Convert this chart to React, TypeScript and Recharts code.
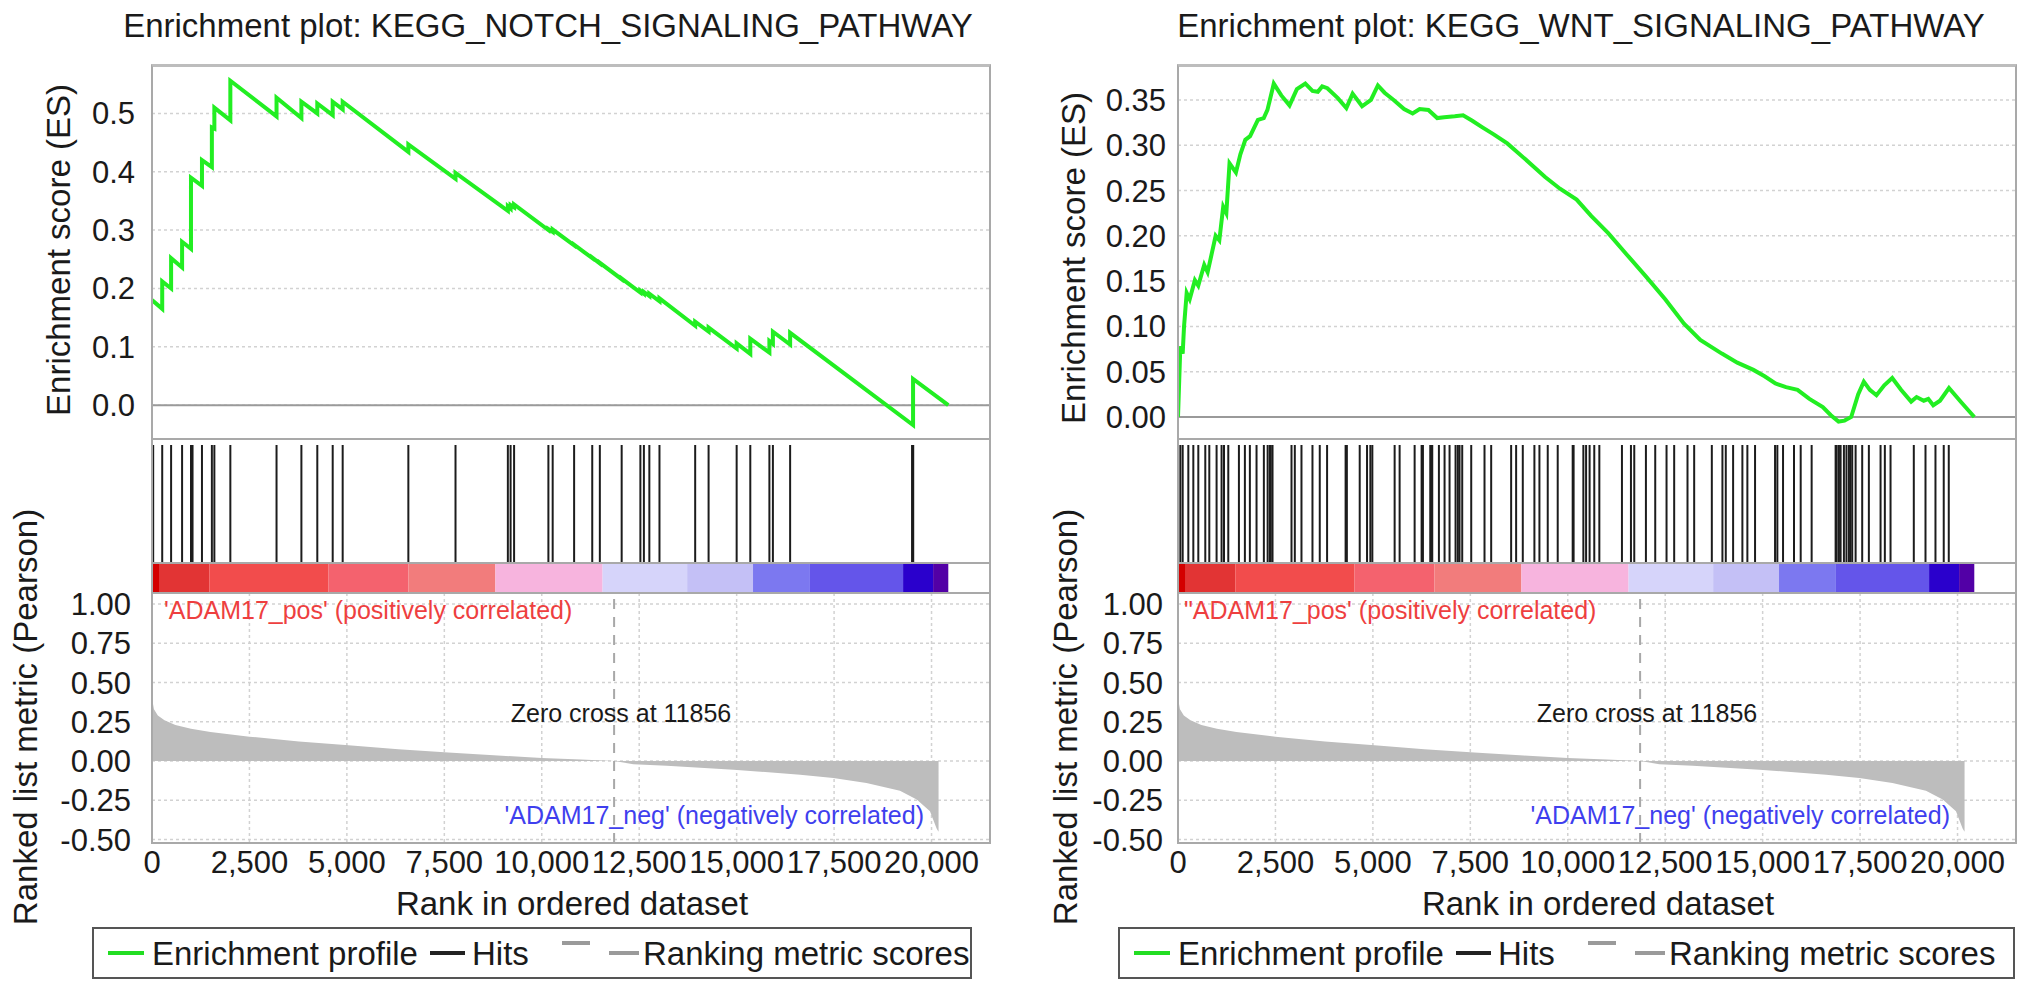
import React from "react";
import {
  LineChart,
  Line,
  ComposedChart,
  Scatter,
  AreaChart,
  Area,
  XAxis,
  YAxis,
  CartesianGrid,
  ReferenceLine,
  ReferenceArea,
} from "recharts";

const FONT = '"Liberation Sans", Arial, Helvetica, sans-serif';

// ---- data ----
const rankTicks = [0, 2500, 5000, 7500, 10000, 12500, 15000, 17500, 20000];
const RANK_MAX = 21500;
const ZERO_CROSS = 11856;

const notchEsRank = [
  0, 262, 262, 490, 490, 772, 772, 1000, 1000, 1282, 1282, 1536, 1536, 1600, 1600,
  2010, 2010, 3195, 3195, 3833, 3833, 4241, 4241, 4636, 4636, 4892, 4892, 6577,
  6577, 7787, 7787, 9130, 9130, 9200, 9200, 9290, 9290, 10170, 10170, 10280, 10280,
  10830, 10830, 11295, 11295, 11490, 11490, 12050, 12050, 12530, 12530, 12620,
  12620, 12760, 12760, 13020, 13020, 13936, 13936, 14280, 14280, 15000, 15000,
  15350, 15350, 15840, 15840, 15930, 15930, 16372, 16372, 19526, 19526, 20430,
];
const notchEsValue = [
  0.18, 0.165, 0.212, 0.2, 0.252, 0.236, 0.28, 0.268, 0.39, 0.376, 0.42, 0.408,
  0.476, 0.474, 0.51, 0.488, 0.556, 0.495, 0.527, 0.492, 0.52, 0.5, 0.517, 0.497,
  0.52, 0.507, 0.52, 0.434, 0.447, 0.388, 0.398, 0.333, 0.341, 0.337, 0.343, 0.339,
  0.344, 0.3, 0.302, 0.297, 0.301, 0.274, 0.275, 0.252, 0.253, 0.243, 0.244, 0.216,
  0.217, 0.193, 0.196, 0.191, 0.194, 0.187, 0.191, 0.178, 0.183, 0.136, 0.143,
  0.126, 0.133, 0.097, 0.106, 0.088, 0.114, 0.09, 0.11, 0.105, 0.126, 0.104, 0.124,
  -0.034, 0.045, 0.0,
];
const notchHits = [
  30, 262, 490, 772, 1000, 1040, 1282, 1536, 1600, 2010, 3195, 3833, 4241, 4636,
  4892, 6577, 7787, 9130, 9200, 9290, 10170, 10280, 10830, 11295, 11490, 12050,
  12530, 12620, 12760, 13020, 13936, 14280, 15000, 15350, 15840, 15930, 16372,
  19500, 19530,
];

const wntEsRank = [
  0, 60, 120, 155, 223, 300, 433, 520, 673, 760, 838, 966, 1060, 1160, 1240, 1322,
  1486, 1600, 1727, 1850, 2050, 2200, 2295, 2457, 2650, 2861, 3050, 3266, 3450,
  3587, 3700, 3832, 4100, 4319, 4480, 4723, 4950, 5128, 5300, 5533, 5800, 6020,
  6200, 6425, 6650, 6830, 7100, 7314, 7550, 7800, 8100, 8448, 8900, 9419, 9800,
  10228, 10600, 11038, 11500, 12009, 12500, 12982, 13400, 13953, 14350, 14763,
  15050, 15328, 15600, 15895, 16200, 16543, 16750, 16948, 17100, 17272, 17450,
  17596, 17750, 17920, 18120, 18324, 18550, 18810, 18950, 19134, 19250, 19376,
  19550, 19780, 20100, 20430,
];
const wntEsValue = [
  0.0, 0.078, 0.07, 0.1, 0.137, 0.13, 0.151, 0.145, 0.168, 0.16, 0.175, 0.2, 0.195,
  0.232, 0.225, 0.28, 0.27, 0.29, 0.306, 0.31, 0.328, 0.33, 0.339, 0.368, 0.355,
  0.344, 0.362, 0.368, 0.36, 0.359, 0.365, 0.363, 0.352, 0.341, 0.357, 0.343, 0.35,
  0.366, 0.358, 0.35, 0.34, 0.335, 0.34, 0.339, 0.33, 0.331, 0.332, 0.333, 0.327,
  0.32, 0.312, 0.302, 0.285, 0.265, 0.252, 0.24, 0.222, 0.203, 0.18, 0.155, 0.13,
  0.103, 0.085, 0.07, 0.06, 0.052, 0.045, 0.037, 0.033, 0.03, 0.02, 0.011, 0.002,
  -0.005, -0.004, 0.0, 0.025, 0.039, 0.03, 0.024, 0.035, 0.043, 0.03, 0.017, 0.022,
  0.018, 0.02, 0.013, 0.018, 0.032, 0.016, 0.0,
];
const wntHits = [
  60, 120, 265, 393, 521, 700, 803, 990, 1118, 1180, 1290, 1563, 1716, 1844, 2015,
  2203, 2300, 2357, 2380, 2425, 2912, 2997, 3168, 3450, 3637, 3825, 4300, 4321,
  4330, 4662, 4850, 4935, 4986, 5558, 5686, 6071, 6250, 6284, 6472, 6500, 6523,
  6694, 6839, 6967, 7121, 7180, 7223, 7292, 7523, 7864, 8035, 8547, 8675, 8846,
  9144, 9273, 9486, 9742, 10126, 10150, 10400, 10470, 10560, 10680, 10810, 11390,
  11621, 11706, 12005, 12244, 12534, 12730, 13072, 13243, 13696, 13968, 14054,
  14242, 14480, 14608, 14805, 15318, 15377, 15523, 15804, 15976, 16257, 16872,
  16900, 16957, 17000, 17085, 17150, 17213, 17250, 17298, 17385, 17554, 17725,
  18025, 18135, 18281, 18878, 19178, 19434, 19646, 19775,
];

const metricRank = [
  0, 50, 150, 320, 600, 1000, 1500, 2500, 3770, 5040, 6320, 7600, 8870, 10000,
  11000, 11856, 12350, 13210, 14920, 16630, 17480, 18330, 19190, 19620, 19960,
  20130, 20180,
];
const metricValue = [
  0.4, 0.33, 0.29, 0.26, 0.23, 0.205, 0.185, 0.155, 0.125, 0.1, 0.075, 0.055, 0.035,
  0.02, 0.01, 0, -0.02, -0.03, -0.055, -0.087, -0.108, -0.14, -0.19, -0.245, -0.32,
  -0.43, -0.45,
];

const barStart = [0, 200, 1470, 4530, 6580, 8810, 11560, 13730, 15420, 16880, 19270, 20040];
const barEnd = [200, 1470, 4530, 6580, 8810, 11560, 13730, 15420, 16880, 19270, 20040, 20430];
const barColor = [
  "#d40000", "#e23434", "#f24c4c", "#f4626e", "#f27c7c", "#f7b4de",
  "#d6d4fa", "#c4c0f6", "#7c78f0", "#6455ea", "#2a00cc", "#5200a6",
];

const notchEsTicks = [0, 0.1, 0.2, 0.3, 0.4, 0.5];
const wntEsTicks = [0, 0.05, 0.1, 0.15, 0.2, 0.25, 0.3, 0.35];
const metricTicks = [-0.5, -0.25, 0, 0.25, 0.5, 0.75, 1];

// ---- layout ----
const PLOT_W = 838;
const YW = 150;
const RM = 20;
const ES_TOP = 65;
const ES_BOTTOM = 439;
const BAR_TOP_PX = 563;
const BAR_BOTTOM = 593;
const METRIC_BOTTOM = 843;
const HIT_TOP = (BAR_BOTTOM - 445) / (BAR_BOTTOM - ES_BOTTOM);
const HIT_LEN = BAR_TOP_PX - 445;
const BAR_TOP = (BAR_BOTTOM - BAR_TOP_PX) / (BAR_BOTTOM - ES_BOTTOM);
const METRIC_DOMAIN = [-0.522, 1.07];
const GRID = "#d2d2d2";
const FRAME = "#a9a9a9";

const panels = [
  {
    title: "Enrichment plot: KEGG_NOTCH_SIGNALING_PATHWAY",
    titleX: 548,
    plotLeft: 152,
    esRank: notchEsRank,
    esValue: notchEsValue,
    hits: notchHits,
    esTicks: notchEsTicks,
    esDomain: [-0.058, 0.583],
    esDigits: 1,
    esTickMargin: 17,
    metricTickMargin: 21,
    esLabelX: 58,
    esLabelY: 250,
    metricLabelX: 25,
    legendW: 880,
    posText: "'ADAM17_pos' (positively correlated)",
    posOffset: 12,
  },
  {
    title: "Enrichment plot: KEGG_WNT_SIGNALING_PATHWAY",
    titleX: 1581,
    plotLeft: 1178,
    esRank: wntEsRank,
    esValue: wntEsValue,
    hits: wntHits,
    esTicks: wntEsTicks,
    esDomain: [-0.0243, 0.3886],
    esDigits: 2,
    esTickMargin: 12,
    metricTickMargin: 15,
    esLabelX: 1073,
    esLabelY: 258,
    metricLabelX: 1065,
    legendW: 897,
    posText: "\"ADAM17_pos' (positively correlated)",
    posOffset: 6,
  },
];

type TextProps = {
  x: number;
  y: number;
  text: string;
  size: number;
  color?: string;
  anchor?: "start" | "middle" | "end";
  rotate?: boolean;
};

function Txt({ x, y, text, size, color = "#1a1a1a", anchor = "middle", rotate }: TextProps) {
  const tx = anchor === "start" ? "0" : anchor === "end" ? "-100%" : "-50%";
  return (
    <div
      style={{
        position: "absolute",
        left: x,
        top: y,
        fontSize: size,
        lineHeight: 1,
        color,
        whiteSpace: "nowrap",
        transform: `translate(${tx}, -50%)${rotate ? " rotate(-90deg)" : ""}`,
        transformOrigin: "center",
      }}
    >
      {text}
    </div>
  );
}

function HLine({ x, y, w, color = FRAME, t = 2 }: { x: number; y: number; w: number; color?: string; t?: number }) {
  return <div style={{ position: "absolute", left: x, top: y - t / 2, width: w, height: t, background: color }} />;
}

const fmtRank = (v: number) => v.toLocaleString("en-US");

function Panel({ p }: { p: (typeof panels)[number] }) {
  const esData = p.esRank.map((r, i) => ({ rank: r, es: p.esValue[i] }));
  const hitData = p.hits.map((r) => ({ rank: r, hit: HIT_TOP }));
  const metricData = metricRank.map((r, i) => ({ rank: r, metric: metricValue[i] }));
  const chartLeft = p.plotLeft - YW;
  const chartW = YW + PLOT_W + RM;
  const tickStyle = { fontSize: 31, fill: "#1a1a1a", fontFamily: FONT };

  return (
    <>
      <Txt x={p.titleX} y={25} text={p.title} size={33} />

      {/* enrichment score */}
      <div style={{ position: "absolute", left: chartLeft, top: ES_TOP - 20 }}>
        <LineChart
          width={chartW}
          height={20 + (ES_BOTTOM - ES_TOP) + 4}
          data={esData}
          margin={{ top: 20, right: RM, bottom: 4, left: 0 }}
        >
          <CartesianGrid stroke={GRID} strokeDasharray="3 3" strokeWidth={1.5} />
          <XAxis
            dataKey="rank"
            type="number"
            domain={[0, RANK_MAX]}
            ticks={rankTicks}
            allowDataOverflow
            height={0}
            tick={false}
            axisLine={false}
            tickLine={false}
          />
          <YAxis
            type="number"
            domain={p.esDomain}
            ticks={p.esTicks}
            allowDataOverflow
            width={YW}
            tickSize={0}
            tickMargin={p.esTickMargin}
            axisLine={false}
            tickLine={false}
            tick={tickStyle}
            tickFormatter={(v: number) => v.toFixed(p.esDigits)}
          />
          <ReferenceLine y={0} stroke="#9a9a9a" strokeWidth={2} />
          <Line
            dataKey="es"
            type="linear"
            stroke="#22ee22"
            strokeWidth={4}
            dot={false}
            isAnimationActive={false}
          />
        </LineChart>
      </div>

      {/* hits and ranked-list colour bar */}
      <div style={{ position: "absolute", left: chartLeft, top: ES_BOTTOM }}>
        <ComposedChart
          width={chartW}
          height={BAR_BOTTOM - ES_BOTTOM}
          data={hitData}
          margin={{ top: 0, right: RM, bottom: 0, left: YW }}
        >
          <XAxis dataKey="rank" type="number" domain={[0, RANK_MAX]} allowDataOverflow hide />
          <YAxis type="number" domain={[0, 1]} allowDataOverflow hide />
          {barStart.map((s, i) => (
            <ReferenceArea
              key={i}
              x1={s}
              x2={barEnd[i]}
              y1={0}
              y2={BAR_TOP}
              fill={barColor[i]}
              fillOpacity={1}
              stroke="none"
            />
          ))}
          <Scatter
            dataKey="hit"
            isAnimationActive={false}
            shape={(s: any) => (
              <line x1={s.cx} x2={s.cx} y1={s.cy} y2={s.cy + HIT_LEN} stroke="#1c1c1c" strokeWidth={2} />
            )}
          />
        </ComposedChart>
      </div>

      {/* ranked list metric */}
      <div style={{ position: "absolute", left: chartLeft, top: BAR_BOTTOM - 12 }}>
        <AreaChart
          width={chartW}
          height={12 + (METRIC_BOTTOM - BAR_BOTTOM) + 50}
          data={metricData}
          margin={{ top: 12, right: RM, bottom: 0, left: 0 }}
        >
          <CartesianGrid stroke={GRID} strokeDasharray="3 3" strokeWidth={1.5} />
          <XAxis
            dataKey="rank"
            type="number"
            domain={[0, RANK_MAX]}
            ticks={rankTicks}
            allowDataOverflow
            height={50}
            tickSize={0}
            tickMargin={8}
            axisLine={false}
            tickLine={false}
            tick={tickStyle}
            tickFormatter={fmtRank}
            interval={0}
          />
          <YAxis
            type="number"
            domain={METRIC_DOMAIN}
            ticks={metricTicks}
            allowDataOverflow
            width={YW}
            tickSize={0}
            tickMargin={p.metricTickMargin}
            axisLine={false}
            tickLine={false}
            tick={tickStyle}
            tickFormatter={(v: number) => v.toFixed(2)}
            interval={0}
          />
          <Area
            dataKey="metric"
            type="linear"
            baseValue={0}
            stroke="none"
            fill="#bdbdbd"
            fillOpacity={1}
            isAnimationActive={false}
          />
          <ReferenceLine x={ZERO_CROSS} stroke="#a8a8a8" strokeWidth={2} strokeDasharray="10 8" />
        </AreaChart>
      </div>

      {/* frame */}
      <div
        style={{
          position: "absolute",
          left: p.plotLeft - 1,
          top: ES_TOP - 1,
          width: PLOT_W + 2,
          height: METRIC_BOTTOM - ES_TOP + 2,
          borderLeft: `2px solid ${FRAME}`,
          borderRight: `2px solid ${FRAME}`,
          borderBottom: `2px solid ${FRAME}`,
          borderTop: "3px solid #bdbdbd",
          boxSizing: "border-box",
        }}
      />
      <HLine x={p.plotLeft} y={ES_BOTTOM} w={PLOT_W} />
      <HLine x={p.plotLeft} y={BAR_TOP_PX} w={PLOT_W} />
      <HLine x={p.plotLeft} y={BAR_BOTTOM} w={PLOT_W} />

      {/* annotations */}
      <Txt x={p.plotLeft + p.posOffset} y={610} text={p.posText} size={25} color="#ee3f3f" anchor="start" />
      <Txt x={p.plotLeft + 469} y={713} text={`Zero cross at ${ZERO_CROSS}`} size={25} />
      <Txt
        x={p.plotLeft + 772}
        y={815}
        text="'ADAM17_neg' (negatively correlated)"
        size={25}
        color="#3f3fee"
        anchor="end"
      />

      {/* axis titles */}
      <Txt x={p.esLabelX} y={p.esLabelY} text="Enrichment score (ES)" size={33} rotate />
      <Txt x={p.metricLabelX} y={717} text="Ranked list metric (Pearson)" size={33} rotate />
      <Txt x={p.plotLeft + 420} y={903} text="Rank in ordered dataset" size={33} />

      {/* legend */}
      <div
        style={{
          position: "absolute",
          left: p.plotLeft - 60,
          top: 927,
          width: p.legendW,
          height: 52,
          border: "2px solid #555",
          boxSizing: "border-box",
        }}
      >
        <div style={{ position: "absolute", left: 14, top: 22, width: 36, height: 4, background: "#22dd22" }} />
        <Txt x={58} y={24} text="Enrichment profile" size={33} anchor="start" />
        <div style={{ position: "absolute", left: 336, top: 22, width: 35, height: 4, background: "#222" }} />
        <Txt x={378} y={24} text="Hits" size={33} anchor="start" />
        <div style={{ position: "absolute", left: 468, top: 12, width: 28, height: 4, background: "#9a9a9a" }} />
        <div style={{ position: "absolute", left: 515, top: 22, width: 30, height: 4, background: "#9a9a9a" }} />
        <Txt x={549} y={24} text="Ranking metric scores" size={33} anchor="start" />
      </div>
    </>
  );
}

export default function App() {
  return (
    <div
      style={{
        position: "absolute",
        left: 0,
        top: 0,
        width: 2031,
        height: 992,
        background: "#fff",
        fontFamily: FONT,
        overflow: "hidden",
      }}
    >
      {panels.map((p) => (
        <Panel key={p.title} p={p} />
      ))}
    </div>
  );
}
